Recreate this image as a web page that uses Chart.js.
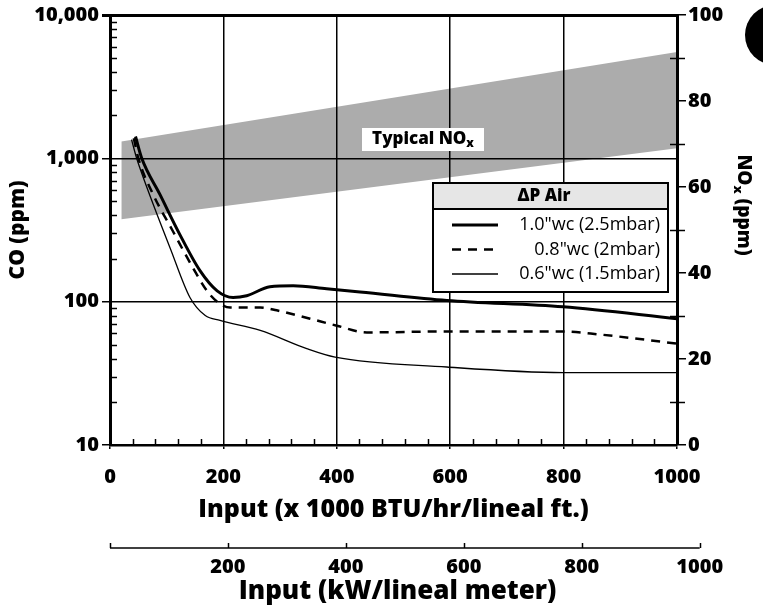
<!DOCTYPE html>
<html><head><meta charset="utf-8">
<script src="https://cdn.jsdelivr.net/npm/chart.js@4.4.1/dist/chart.umd.min.js"></script>
<style>html,body{margin:0;padding:0;background:#fff;}canvas{display:block;}</style>
</head><body>
<canvas id="c" width="763" height="611"></canvas>
<script>
// ---------- data ----------
const seriesLabels = ['1.0"wc (2.5mbar)', '0.8"wc (2mbar)', '0.6"wc (1.5mbar)'];
const input10 = [45, 56, 88, 123, 159, 189, 217, 241, 282, 323, 382, 441, 594, 799, 1000];
const co10    = [1420, 1000, 560, 295, 164, 119, 107, 110, 127, 129, 123, 117, 102, 92, 76];
const input08 = [42, 50, 76, 111, 146, 171, 189, 212, 265, 294, 353, 400, 453, 594, 799, 864, 1000];
const co08    = [1380, 1000, 560, 310, 173, 119, 100, 91, 91, 87, 76, 68, 61, 62, 62, 59, 51];
const input06 = [38, 47, 53, 76, 106, 141, 168, 194, 265, 347, 397, 594, 799, 1000];
const co06    = [1350, 1000, 850, 480, 237, 107, 80, 74, 63, 47, 41, 35, 32, 32];
const bandInput = [20, 1000];
const noxLow  = [52.5, 69];
const noxHigh = [70.6, 91.4];
const coTicks = [10, 100, 1000, 10000];
const inputTicks = [0, 200, 400, 600, 800, 1000];
const noxTicks = [0, 20, 40, 60, 80, 100];
const noxMinorTicks = [10, 30, 50, 70, 90];
const kwTicks = [200, 400, 600, 800, 1000];
const kwToKbtu = 1.04; // 1 kW/m = 1.04 x1000 BTU/hr/ft

const FONT = "'Open Sans', Lato, 'DejaVu Sans', sans-serif";
const HEAVY = '800';
const pts = (xs, ys) => xs.map((x, i) => ({x, y: ys[i]}));

// draw text made of parts (subscript support)
function drawParts(ctx, parts, x, y, size, weight, align) {
  let w = 0;
  const fontOf = p => `${weight} ${p.sub ? Math.round(size * 0.7) : size}px ${FONT}`;
  parts.forEach(p => { ctx.font = fontOf(p); w += ctx.measureText(p.t).width; });
  let cx = align === 'center' ? x - w / 2 : (align === 'right' ? x - w : x);
  ctx.textAlign = 'left'; ctx.textBaseline = 'middle';
  parts.forEach(p => {
    ctx.font = fontOf(p);
    ctx.fillText(p.t, cx, p.sub ? y + size * 0.28 : y);
    cx += ctx.measureText(p.t).width;
  });
}

const decor = {
  id: 'decor',
  afterDatasetsDraw(chart) {
    const ctx = chart.ctx;
    ctx.save();
    ctx.fillStyle = '#fff';
    ctx.fillRect(362, 128, 122, 23);
    ctx.fillStyle = '#000';
    drawParts(ctx, [{t: 'Typical NO'}, {t: 'x', sub: true}], 423, 139, 17, HEAVY, 'center');
    ctx.restore();
  },
  afterDraw(chart) {
    const ctx = chart.ctx;
    const {x, y, y2} = chart.scales;
    const area = chart.chartArea;
    ctx.save();
    ctx.strokeStyle = '#000'; ctx.fillStyle = '#000';
    ctx.lineWidth = 1.5;
    for (let d = 10; d < 10000; d *= 10) {
      for (let m = 2; m <= 9; m++) {
        const py = Math.round(y.getPixelForValue(m * d)) + 0.5;
        ctx.beginPath(); ctx.moveTo(area.left, py); ctx.lineTo(area.left + 7, py); ctx.stroke();
      }
    }
    for (let v = 40; v < 1000; v += 40) {
      if (v % 200 === 0) continue;
      const px = Math.round(x.getPixelForValue(v)) + 0.5;
      ctx.beginPath(); ctx.moveTo(px, area.bottom); ctx.lineTo(px, area.bottom - 6); ctx.stroke();
    }
    noxMinorTicks.forEach(v => {
      const py = Math.round(y2.getPixelForValue(v)) + 0.5;
      ctx.beginPath(); ctx.moveTo(area.right - 7, py); ctx.lineTo(area.right + 8, py); ctx.stroke();
    });

    // second x axis (kW / lineal meter)
    const ay = 548;
    const kx = v => x.getPixelForValue(v * kwToKbtu);
    ctx.lineWidth = 1.5;
    ctx.beginPath(); ctx.moveTo(kx(0), ay); ctx.lineTo(kx(1000), ay); ctx.stroke();
    [0].concat(kwTicks).forEach(v => {
      const px = Math.round(kx(v)) + 0.5;
      ctx.beginPath(); ctx.moveTo(px, ay); ctx.lineTo(px, ay - 5); ctx.stroke();
    });
    ctx.font = `${HEAVY} 20px ${FONT}`; ctx.textAlign = 'center'; ctx.textBaseline = 'middle';
    kwTicks.forEach(v => ctx.fillText(String(v), kx(v), 567));
    ctx.font = `${HEAVY} 26px ${FONT}`;
    ctx.fillText('Input (kW/lineal meter)', (area.left + area.right) / 2 + 4, 592);

    // right axis title NOx (ppm), rotated clockwise
    ctx.save();
    ctx.translate(743, 205);
    ctx.rotate(Math.PI / 2);
    drawParts(ctx, [{t: 'NO'}, {t: 'x', sub: true}, {t: ' (ppm)'}], 0, 0, 19, HEAVY, 'center');
    ctx.restore();

    // legend box
    const L = {left: 433, right: 668, top: 183, head: 209, bottom: 292};
    ctx.fillStyle = '#fff';
    ctx.fillRect(L.left, L.top, L.right - L.left, L.bottom - L.top);
    ctx.fillStyle = '#e6e6e6';
    ctx.fillRect(L.left, L.top, L.right - L.left, L.head - L.top);
    ctx.lineWidth = 2; ctx.strokeStyle = '#000';
    ctx.strokeRect(L.left, L.top, L.right - L.left, L.bottom - L.top);
    ctx.beginPath(); ctx.moveTo(L.left, L.head); ctx.lineTo(L.right, L.head); ctx.stroke();
    ctx.fillStyle = '#000';
    ctx.font = `${HEAVY} 17px ${FONT}`; ctx.textAlign = 'center'; ctx.textBaseline = 'middle';
    ctx.fillText('\u0394P Air', 544, 196);
    const lineSets = chart.data.datasets.filter(d => d.isSeries);
    lineSets.forEach((d, i) => {
      const ry = 225 + i * 24.5;
      ctx.save();
      ctx.lineWidth = d.borderWidth; ctx.setLineDash(d.borderDash || []);
      ctx.beginPath(); ctx.moveTo(452, ry); ctx.lineTo(498, ry); ctx.stroke();
      ctx.restore();
      ctx.font = `18px ${FONT}`; ctx.textAlign = 'right';
      ctx.fillText(d.label, 660, ry);
    });

    // black tab mark at the edge
    ctx.beginPath(); ctx.arc(775, 35, 30, 0, Math.PI * 2); ctx.fill();
    ctx.restore();
  }
};

const tickSetter = arr => scale => { scale.ticks = arr.map(v => ({value: v})); };
const tickFont = {family: FONT, size: 20, weight: HEAVY};

new Chart(document.getElementById('c'), {
  type: 'line',
  data: {
    datasets: [
      {label: seriesLabels[0], isSeries: true, data: pts(input10, co10), yAxisID: 'y',
       borderColor: '#000', borderWidth: 3, pointRadius: 0, fill: false, cubicInterpolationMode: 'monotone'},
      {label: seriesLabels[1], isSeries: true, data: pts(input08, co08), yAxisID: 'y',
       borderColor: '#000', borderWidth: 2.5, borderDash: [9, 7], pointRadius: 0, fill: false, cubicInterpolationMode: 'monotone'},
      {label: seriesLabels[2], isSeries: true, data: pts(input06, co06), yAxisID: 'y',
       borderColor: '#000', borderWidth: 1.3, pointRadius: 0, fill: false, cubicInterpolationMode: 'monotone'},
      {label: 'NOx low', data: pts(bandInput, noxLow), yAxisID: 'y2',
       borderWidth: 0, pointRadius: 0, fill: false},
      {label: 'Typical NOx', data: pts(bandInput, noxHigh), yAxisID: 'y2',
       borderWidth: 0, pointRadius: 0, fill: '-1', backgroundColor: '#acacac'}
    ]
  },
  options: {
    responsive: false, animation: false, devicePixelRatio: 1,
    layout: {padding: {top: 13, left: 0, right: 0, bottom: 0}},
    plugins: {
      legend: {display: false}, tooltip: {enabled: false},
      filler: {drawTime: 'beforeDraw'}
    },
    scales: {
      x: {
        type: 'linear', position: 'bottom', min: 0, max: 1000,
        afterBuildTicks: tickSetter(inputTicks),
        afterFit: s => { s.height = 166; },
        grid: {color: '#000', lineWidth: 1.5, tickLength: 4},
        border: {color: '#000', width: 2.5},
        ticks: {color: '#000', padding: 16, maxRotation: 0, font: tickFont, callback: v => String(v)},
        title: {display: true, text: 'Input (x 1000 BTU/hr/lineal ft.)', color: '#000',
                font: {family: FONT, size: 25, weight: HEAVY}, padding: {top: 0, bottom: 86}}
      },
      y: {
        type: 'logarithmic', position: 'left', min: 10, max: 10000,
        afterBuildTicks: tickSetter(coTicks),
        afterFit: s => { s.width = 110; },
        grid: {color: '#000', lineWidth: c => (c.tick && c.tick.value === 10000 ? 3 : 1.5), tickLength: 8},
        border: {color: '#000', width: 3},
        ticks: {color: '#000', padding: 3, font: tickFont,
                callback: v => Number(v).toLocaleString('en-US')},
        title: {display: true, text: 'CO (ppm)', color: '#000',
                font: {family: FONT, size: 21, weight: HEAVY}, padding: {top: 5, bottom: 0}}
      },
      y2: {
        type: 'linear', position: 'right', min: 0, max: 100,
        afterBuildTicks: tickSetter(noxTicks),
        afterFit: s => { s.width = 86; },
        grid: {drawOnChartArea: false, color: '#000', lineWidth: 1.5, tickLength: 9},
        border: {color: '#000', width: 3},
        ticks: {color: '#000', padding: 2, font: tickFont}
      }
    }
  },
  plugins: [decor]
});
</script>
</body></html>
